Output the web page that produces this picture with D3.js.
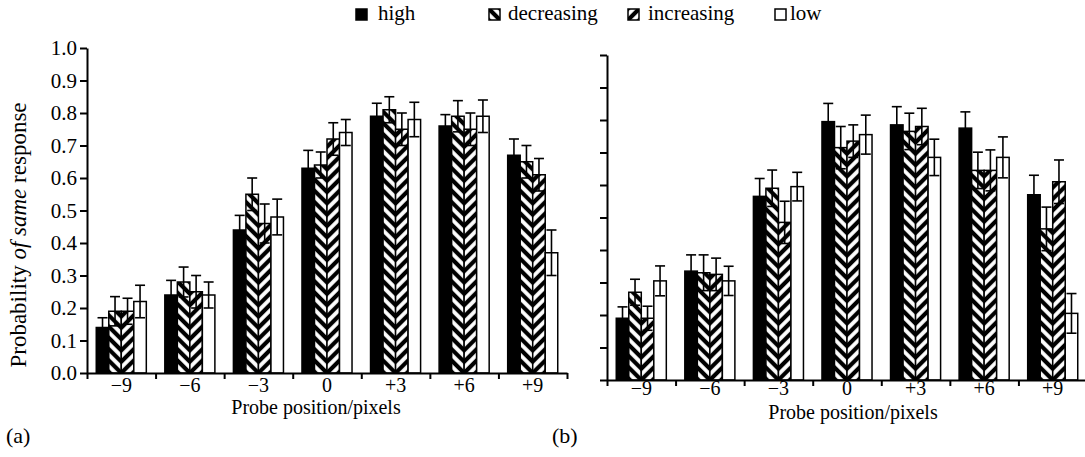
<!DOCTYPE html>
<html>
<head>
<meta charset="utf-8">
<script src="https://cdnjs.cloudflare.com/ajax/libs/d3/7.8.5/d3.min.js"></script>
<style>
body { margin: 0; background: #fff; }
text { font-family: "Liberation Serif", "Times New Roman", serif; fill: #000; }
</style>
</head>
<body>
<script>
var w = 1085;
var h = 457;

var positions = ["\u22129", "\u22126", "\u22123", "0", "+3", "+6", "+9"];
var conditions = ["high", "decreasing", "increasing", "low"];
var yTicks = [0, 0.1, 0.2, 0.3, 0.4, 0.5, 0.6, 0.7, 0.8, 0.9, 1.0];

// panel (a): means per condition, one value per probe position
var aHigh = [0.14, 0.24, 0.44, 0.63, 0.79, 0.76, 0.67];
var aDec  = [0.19, 0.28, 0.55, 0.64, 0.81, 0.79, 0.65];
var aInc  = [0.19, 0.25, 0.46, 0.72, 0.75, 0.75, 0.61];
var aLow  = [0.22, 0.24, 0.48, 0.74, 0.78, 0.79, 0.37];
var aHighErr = [0.03, 0.045, 0.045, 0.055, 0.04, 0.035, 0.05];
var aDecErr  = [0.045, 0.046, 0.05, 0.04, 0.04, 0.048, 0.05];
var aIncErr  = [0.04, 0.05, 0.06, 0.05, 0.05, 0.05, 0.05];
var aLowErr  = [0.05, 0.04, 0.055, 0.04, 0.053, 0.05, 0.07];

// panel (b)
var bHigh = [0.19, 0.335, 0.565, 0.795, 0.785, 0.775, 0.57];
var bDec  = [0.27, 0.33, 0.59, 0.715, 0.765, 0.645, 0.465];
var bInc  = [0.19, 0.325, 0.485, 0.735, 0.78, 0.645, 0.61];
var bLow  = [0.305, 0.305, 0.595, 0.755, 0.685, 0.685, 0.205];
var bHighErr = [0.035, 0.05, 0.055, 0.056, 0.056, 0.05, 0.06];
var bDecErr  = [0.04, 0.055, 0.056, 0.065, 0.056, 0.056, 0.067];
var bIncErr  = [0.037, 0.05, 0.065, 0.05, 0.056, 0.063, 0.067];
var bLowErr  = [0.046, 0.045, 0.044, 0.06, 0.056, 0.063, 0.061];

var svg = d3.select("body").append("svg").attr("width", w).attr("height", h);
var defs = svg.append("defs");

// diagonal stripes; the centre line of a stripe passes through (ox, oy)
function hatch(id, angle, ox, oy) {
    var p = defs.append("pattern")
        .attr("id", id)
        .attr("patternUnits", "userSpaceOnUse")
        .attr("width", 8)
        .attr("height", 8)
        .attr("patternTransform", "translate(" + ox + "," + oy + ") rotate(" + angle + ")");
    p.append("rect").attr("width", 8).attr("height", 8).attr("fill", "#fff");
    p.append("rect").attr("x", 0).attr("width", 2.1).attr("height", 8).attr("fill", "#000");
    p.append("rect").attr("x", 5.9).attr("width", 2.1).attr("height", 8).attr("fill", "#000");
}

var solid = { high: "#000", low: "#fff" };

function panel(key, left, right, top, bottom, means, errs, showLabels, labelPad, titleX, titleY, letter, letterX) {
    var x = d3.scaleBand().domain(positions).range([left, right]);
    var xi = d3.scaleBand().domain(conditions).range([0, x.bandwidth()]).paddingOuter(0.74);
    var xb = d3.scaleLinear().domain([0, positions.length]).range([left, right]);
    var y = d3.scaleLinear().domain([0, 1]).range([bottom, top]);

    // one pair of patterns per group so the chevrons meet at the bar edge
    positions.forEach(function (p, i) {
        var edge = x(p) + xi("increasing");
        hatch(key + "dec" + i, -45, edge, bottom);
        hatch(key + "inc" + i, 45, edge, bottom);
    });

    var rows = [];
    positions.forEach(function (p, i) {
        conditions.forEach(function (c, j) {
            rows.push({ pos: p, idx: i, cond: c, v: means[j][i], e: errs[j][i] });
        });
    });

    var g = svg.append("g");

    g.selectAll("rect.bar")
        .data(rows)
        .enter()
        .append("rect")
        .attr("class", "bar")
        .attr("x", function (d) { return x(d.pos) + xi(d.cond); })
        .attr("y", function (d) { return y(d.v); })
        .attr("width", xi.bandwidth())
        .attr("height", function (d) { return bottom - y(d.v); })
        .style("fill", function (d) {
            if (d.cond == "decreasing") return "url(#" + key + "dec" + d.idx + ")";
            if (d.cond == "increasing") return "url(#" + key + "inc" + d.idx + ")";
            return solid[d.cond];
        })
        .style("stroke", "#000")
        .style("stroke-width", 1.5);

    var cx = function (d) { return x(d.pos) + xi(d.cond) + xi.bandwidth() / 2; };
    var eb = g.selectAll("g.err").data(rows).enter().append("g").attr("class", "err")
        .style("stroke", "#000").style("stroke-width", 1.6);
    eb.append("line")
        .attr("x1", cx).attr("x2", cx)
        .attr("y1", function (d) { return y(d.v - d.e); })
        .attr("y2", function (d) { return y(d.v + d.e); });
    eb.append("line")
        .attr("x1", function (d) { return cx(d) - 5; }).attr("x2", function (d) { return cx(d) + 5; })
        .attr("y1", function (d) { return y(d.v + d.e); })
        .attr("y2", function (d) { return y(d.v + d.e); });
    eb.append("line")
        .attr("x1", function (d) { return cx(d) - 5; }).attr("x2", function (d) { return cx(d) + 5; })
        .attr("y1", function (d) { return y(d.v - d.e); })
        .attr("y2", function (d) { return y(d.v - d.e); });

    // y axis
    var ya = g.append("g")
        .attr("transform", "translate(" + left + ",0)")
        .call(d3.axisLeft(y).tickValues(yTicks).tickSize(7).tickSizeOuter(0).tickPadding(3)
            .tickFormat(showLabels ? d3.format(".1f") : ""));
    ya.selectAll("path, line").style("stroke", "#000").style("stroke-width", 2);
    ya.selectAll("text").style("font-family", '"Liberation Serif", serif').style("font-size", "21px");

    // x axis: ticks between the groups
    var xa = g.append("g")
        .attr("transform", "translate(0," + bottom + ")")
        .call(d3.axisBottom(xb).tickValues(d3.range(positions.length + 1)).tickSize(6).tickSizeOuter(0).tickFormat(""));
    xa.selectAll("path, line").style("stroke", "#000").style("stroke-width", 2);

    // x axis: category labels
    var xl = g.append("g")
        .attr("transform", "translate(0," + bottom + ")")
        .call(d3.axisBottom(x).tickSize(0).tickPadding(labelPad));
    xl.select("path").remove();
    xl.selectAll("text").style("font-family", '"Liberation Serif", serif').style("font-size", "20px");

    g.append("text")
        .attr("x", titleX)
        .attr("y", titleY)
        .attr("text-anchor", "middle")
        .style("font-size", "20px")
        .text("Probe position/pixels");

    g.append("text")
        .attr("x", letterX)
        .attr("y", 443)
        .style("font-size", "22px")
        .text(letter);
}

panel("a", 87, 567, 48, 373, [aHigh, aDec, aInc, aLow], [aHighErr, aDecErr, aIncErr, aLowErr], true, 5, 316, 414, "(a)", 6);
panel("b", 607, 1087, 55, 380, [bHigh, bDec, bInc, bLow], [bHighErr, bDecErr, bIncErr, bLowErr], false, 1, 853, 419, "(b)", 552);

// y axis title
var yt = svg.append("text")
    .attr("transform", "translate(26,235) rotate(-90)")
    .attr("text-anchor", "middle")
    .style("font-size", "23px");
yt.append("tspan").text("Probability ");
yt.append("tspan").style("font-style", "italic").text("of same");
yt.append("tspan").text(" response");

// legend
var legendX = [356, 489, 628, 775];
var legendTextX = [378, 508, 648, 790];
conditions.forEach(function (c, i) {
    hatch("leg" + i, c == "decreasing" ? -45 : 45, legendX[i] + 5.5, 14.5);
});
var lg = svg.append("g").selectAll("g").data(conditions).enter().append("g");
lg.append("rect")
    .attr("x", function (d, i) { return legendX[i]; })
    .attr("y", 9)
    .attr("width", 11)
    .attr("height", 11)
    .style("fill", function (d, i) { return solid[d] || "url(#leg" + i + ")"; })
    .style("stroke", "#000")
    .style("stroke-width", 1.5);
lg.append("text")
    .attr("x", function (d, i) { return legendTextX[i]; })
    .attr("y", 20)
    .style("font-size", "21px")
    .text(function (d) { return d; });
</script>
</body>
</html>
